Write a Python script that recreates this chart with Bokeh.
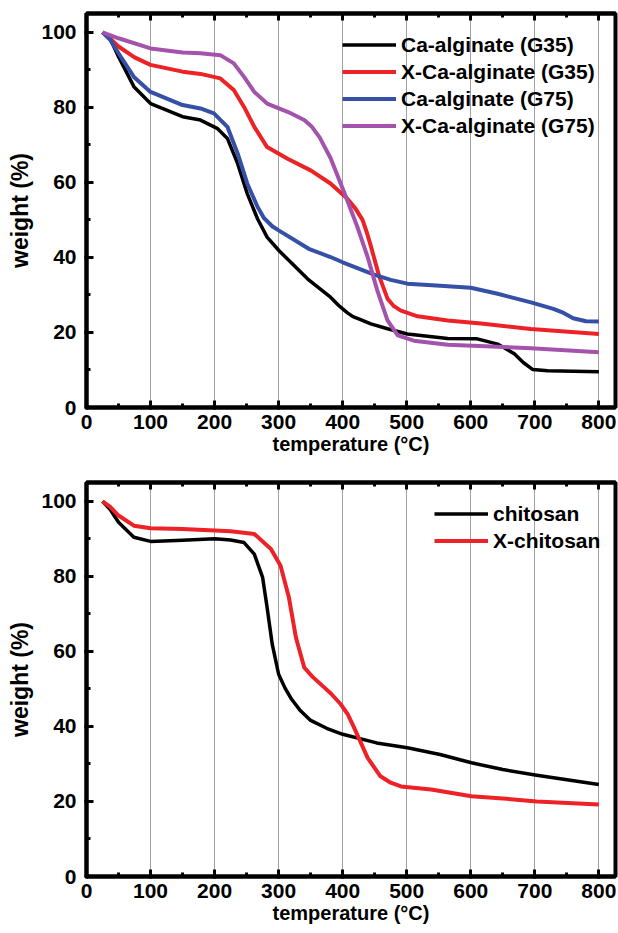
from bokeh.plotting import figure
from bokeh.models import Range1d, SingleIntervalTicker, LinearAxis
from bokeh.layouts import column
from bokeh.embed import file_html
from bokeh.resources import INLINE

# ---- data: top panel (alginate) ----
ca35_x = [25, 37, 50, 74, 100, 150, 178, 204, 220, 236, 251, 267, 282, 300, 347, 381, 395, 407, 416, 427, 444, 470, 501, 564, 610, 642, 668, 682, 697, 720, 800]
ca35_y = [100, 98.3, 93.5, 85.5, 81, 77.5, 76.6, 74.4, 71.7, 65, 57, 50.3, 45.4, 41.9, 34, 29.4, 27, 25.3, 24.2, 23.5, 22.3, 21, 19.6, 18.4, 18.3, 16.9, 14.3, 12, 10.1, 9.8, 9.5]

xca35_x = [25, 37, 50, 75, 100, 150, 178, 209, 230, 246, 262, 282, 314, 350, 381, 407, 420, 431, 438, 444, 457, 470, 480, 491, 517, 564, 616, 694, 800]
xca35_y = [100, 98.3, 96.2, 93.3, 91.3, 89.5, 88.9, 87.7, 84.6, 80.1, 74.8, 69.4, 66.3, 63.2, 59.7, 55.7, 53, 50, 46.5, 43, 35, 29, 27, 25.8, 24.3, 23.2, 22.4, 20.9, 19.6]

ca75_x = [25, 37, 50, 74, 100, 150, 178, 199, 220, 236, 251, 267, 277, 290, 300, 347, 381, 400, 449, 475, 501, 546, 600, 642, 694, 729, 745, 760, 780, 800]
ca75_y = [100, 98, 94.4, 88.1, 84.1, 80.6, 79.7, 78.4, 74.8, 67.7, 59.7, 53.5, 50.5, 48.3, 47.2, 42.3, 40.1, 38.7, 35.4, 34, 33.0, 32.5, 31.9, 30.3, 28.0, 26.3, 25.2, 23.8, 23.0, 22.9]

xca75_x = [25, 50, 100, 150, 178, 209, 230, 246, 262, 282, 314, 340, 352, 364, 381, 402, 423, 439, 454, 470, 486, 511, 564, 642, 694, 800]
xca75_y = [100, 98.4, 95.7, 94.6, 94.4, 93.9, 91.7, 88.1, 84.1, 81.0, 78.8, 76.6, 74.8, 72, 66.5, 57.5, 48.1, 40.1, 31.2, 23.2, 19.2, 17.8, 16.7, 16.2, 15.8, 14.7]

# ---- data: bottom panel (chitosan) ----
chit_x = [25, 37, 50, 74, 100, 150, 200, 225, 246, 262, 275, 282, 290, 300, 310, 320, 333, 350, 375, 400, 453, 501, 552, 601, 650, 703, 800]
chit_y = [100, 97.8, 94.4, 90.4, 89.3, 89.6, 90, 89.7, 89.0, 85.9, 79.7, 71.7, 61.9, 53.9, 50.2, 47.3, 44.4, 41.6, 39.5, 37.9, 35.6, 34.3, 32.5, 30.3, 28.5, 27.0, 24.5]

xchit_x = [25, 37, 50, 74, 100, 150, 200, 225, 262, 288, 303, 316, 327, 340, 353, 366, 382, 397, 408, 418, 439, 459, 475, 491, 538, 601, 650, 703, 800]
xchit_y = [100, 98.5, 96.2, 93.5, 92.8, 92.6, 92.2, 92.0, 91.3, 87.3, 82.8, 74.4, 63.7, 55.7, 53.2, 51.2, 48.7, 45.9, 43.2, 39.6, 31.6, 26.7, 25, 24.0, 23.2, 21.4, 20.8, 20.0, 19.2]

x_label = "temperature (°C)"
y_label = "weight (%)"
x_ticks = list(range(0, 900, 100))

FONT = "Liberation Sans"


def make_fig(height, top_border, bottom_border):
    p = figure(width=618, height=height, output_backend="svg", toolbar_location=None,
               x_range=Range1d(0, 826), y_range=Range1d(0, 105),
               min_border_left=86, min_border_right=3, min_border_top=top_border,
               min_border_bottom=bottom_border)
    p.outline_line_color = "black"
    p.outline_line_width = 4
    p.background_fill_color = "white"
    p.border_fill_color = "white"

    xt = SingleIntervalTicker(interval=100, num_minor_ticks=2)
    yt = SingleIntervalTicker(interval=20, num_minor_ticks=2)
    p.xaxis.ticker = xt
    p.yaxis.ticker = yt
    for ax in (p.xaxis[0], p.yaxis[0]):
        ax.axis_line_width = 4
        ax.major_tick_in = 7
        ax.major_tick_out = 2
        ax.minor_tick_in = 4
        ax.minor_tick_out = 0
        ax.major_tick_line_width = 3
        ax.minor_tick_line_width = 3
        ax.major_label_text_font = FONT
        ax.major_label_text_font_style = "bold"
        ax.major_label_text_font_size = "21px"
        ax.major_label_text_color = "black"
        ax.axis_label_text_font = FONT
        ax.axis_label_text_font_style = "bold"
        ax.axis_label_text_color = "black"
    p.xaxis.axis_label = x_label
    p.yaxis.axis_label = y_label
    p.xaxis.axis_label_text_font_size = "20px"
    p.yaxis.axis_label_text_font_size = "23px"
    p.xaxis.major_label_standoff = 5
    p.xaxis.axis_label_standoff = 1
    p.yaxis.major_label_standoff = 8
    p.yaxis.axis_label_standoff = 5

    top = LinearAxis(ticker=SingleIntervalTicker(interval=100, num_minor_ticks=2),
                     major_label_overrides={t: "" for t in x_ticks},
                     major_label_standoff=0,
                     axis_line_width=4, major_tick_in=7, major_tick_out=0,
                     minor_tick_in=4, minor_tick_out=0,
                     major_tick_line_width=3, minor_tick_line_width=3)
    p.add_layout(top, "above")

    p.xgrid.ticker = xt
    p.xgrid.grid_line_color = "#a0a0a0"
    p.xgrid.grid_line_width = 1
    p.ygrid.grid_line_color = None
    return p


def style_legend(p, loc):
    lg = p.legend[0]
    lg.location = loc
    lg.padding = 0
    lg.spacing = 0
    lg.margin = 0
    lg.glyph_width = 54
    lg.glyph_height = 27
    lg.label_height = 27
    lg.label_standoff = 5
    lg.border_line_color = None
    lg.background_fill_alpha = 0
    lg.label_text_font = FONT
    lg.label_text_font_style = "bold"
    lg.label_text_font_size = "21px"
    lg.label_text_color = "black"


RED = "#ec2227"
BLUE = "#3550a6"
PURPLE = "#a453ad"

p1 = make_fig(463, 13, 56)
p1.line(ca35_x, ca35_y, line_color="black", line_width=3.5, line_join="round", legend_label="Ca-alginate (G35)")
p1.line(xca35_x, xca35_y, line_color=RED, line_width=4, line_join="round", legend_label="X-Ca-alginate (G35)")
p1.line(ca75_x, ca75_y, line_color=BLUE, line_width=4, line_join="round", legend_label="Ca-alginate (G75)")
p1.line(xca75_x, xca75_y, line_color=PURPLE, line_width=4, line_join="round", legend_label="X-Ca-alginate (G75)")
style_legend(p1, (256, 268))

p2 = make_fig(470, 19, 57)
p2.line(chit_x, chit_y, line_color="black", line_width=3.5, line_join="round", legend_label="chitosan")
p2.line(xchit_x, xchit_y, line_color=RED, line_width=4, line_join="round", legend_label="X-chitosan")
style_legend(p2, (348, 322))

layout = column(p1, p2)
open("out.html", "w").write(file_html(layout, INLINE))
